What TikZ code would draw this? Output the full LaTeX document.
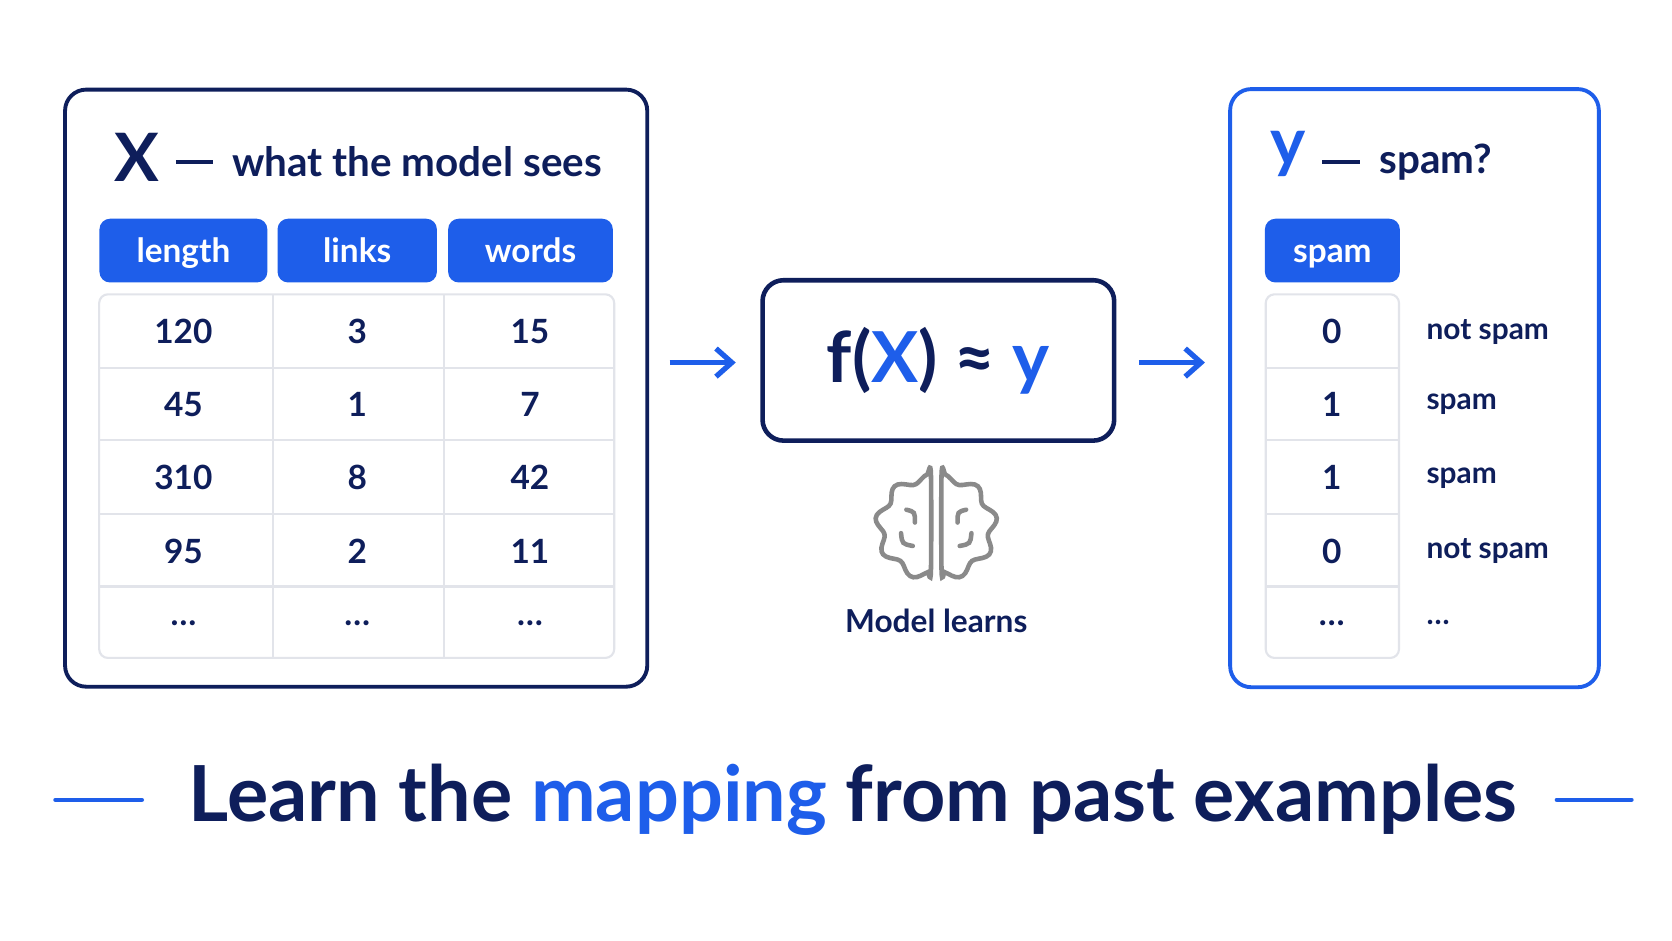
\documentclass[tikz,border=0pt]{standalone}
\usepackage{fontspec}
\setmainfont{Lato}
\usetikzlibrary{arrows.meta}
\definecolor{navy}{HTML}{0E1E5B}
\definecolor{blu}{HTML}{1E5EEA}
\definecolor{cellline}{HTML}{E2E4EA}
\definecolor{braingray}{HTML}{8A8A8A}
\tikzstyle{panel} = [draw=navy, line width=2.2pt, rounded corners=12pt, fill=white]
\tikzstyle{head} = [fill=blu, rounded corners=6pt, text=white, text height=15pt, text depth=2pt, font=\bfseries\fontsize{19}{21}\selectfont]
\tikzstyle{cell} = [draw=cellline, line width=1.2pt]
\tikzstyle{num} = [text=navy, font=\bfseries\fontsize{19}{21}\selectfont]
\tikzstyle{lab} = [text=navy, anchor=west, font=\bfseries\fontsize{17}{19}\selectfont]
\tikzstyle{arrow} = [draw=blu, line width=3pt, -{Straight Barb[length=9pt,width=16pt,line width=3pt]}]
\tikzstyle{emdash} = [draw=navy, line width=2.5pt]

\begin{document}
\begin{tikzpicture}[x=0.021327cm, y=-0.021327cm]
\useasboundingbox[fill=white] (0,0) rectangle (1568,882);

% input panel
\node (xbox) [panel, minimum width=548*0.6047pt, minimum height=562*0.6047pt] at (334,364) {};
\node (xsym) [text=navy, font=\bfseries\fontsize{38}{40}\selectfont] at (128,148) {X};
\draw [emdash] (165,152) -- (200,152);
\node (xtitle) [text=navy, anchor=west, font=\bfseries\fontsize{23}{26}\selectfont] at (212,152) {what the model sees};
\foreach \name/\a/\b in {length/93/251, links/260/410, words/420/575}
  \node (h\name) [head, minimum width=(\b-\a)*0.6047pt, minimum height=60*0.6047pt] at ({(\a+\b)/2},235) {\name};
\draw [cell, rounded corners=5pt] (93,276) rectangle (576,617);
\foreach \x in {256,416} \draw [cell] (\x,276) -- (\x,617);
\foreach \y in {345,413,482,550} \draw [cell] (93,\y) -- (576,\y);
\foreach \r/\y/\p/\q/\s in {1/311/120/3/15, 2/379/45/1/7, 3/448/310/8/42, 4/517/95/2/11, 5/584/\dots/\dots/\dots} {
  \node (a\r) [num] at (172,\y) {\p};
  \node (b\r) [num] at (335,\y) {\q};
  \node (c\r) [num] at (497,\y) {\s};
}

% model
\node (fbox) [panel, line width=2.6pt, minimum width=331*0.6047pt, minimum height=151*0.6047pt] at (880,338) {};
\node (ftext) [text=navy, font=\bfseries\fontsize{40}{44}\selectfont] at (880,338) {f(\textcolor{blu}{X}) ≈ \textcolor{blu}{y}};
\coordinate (a1s) at (628,340); \coordinate (a1e) at (690,340);
\coordinate (a2s) at (1068,340); \coordinate (a2e) at (1130,340);
\draw [arrow] (a1s) -- (a1e);
\draw [arrow] (a2s) -- (a2e);

% brain
\begin{scope}[draw=braingray, line width=2.6pt, line cap=round]
\draw plot[smooth cycle, samples=50, domain=90:270, variable=\t]
  ({873+(46+4*cos(9*(\t-90)))*cos(\t)*1.05}, {494-(46+4*cos(9*(\t-90)))*sin(\t)});
\draw plot[smooth cycle, samples=50, domain=-90:90, variable=\t]
  ({883+(46+4*cos(9*(\t-90)))*cos(\t)*1.05}, {494-(46+4*cos(9*(\t-90)))*sin(\t)});
\draw (850,478) .. controls (858,480) .. (858,490);
\draw (845,500) .. controls (846,510) .. (856,512);
\draw (906,478) .. controls (898,480) .. (898,490);
\draw (911,500) .. controls (910,510) .. (900,512);
\end{scope}
\node (brainlab) [text=navy, font=\bfseries\fontsize{18}{20}\selectfont] at (878,582) {Model learns};

% output panel
\node (ybox) [panel, draw=blu, minimum width=347*0.6047pt, minimum height=563*0.6047pt] at (1326.5,364) {};
\node (ysym) [text=blu, font=\bfseries\fontsize{38}{40}\selectfont] at (1208,144) {y};
\draw [emdash] (1240,152) -- (1275,152);
\node (ytitle) [text=navy, anchor=west, font=\bfseries\fontsize{23}{26}\selectfont] at (1288,152) {spam?};
\node (hspam) [head, minimum width=127*0.6047pt, minimum height=60*0.6047pt] at (1249.5,235) {spam};
\draw [cell, rounded corners=5pt] (1187,276) rectangle (1312,617);
\foreach \y in {345,413,482,550} \draw [cell] (1187,\y) -- (1312,\y);
\foreach \r/\y/\v/\t in {1/311/0/not spam, 2/379/1/spam, 3/448/1/spam, 4/517/0/not spam, 5/584/\dots/\dots} {
  \node (v\r) [num] at (1249,\y) {\v};
  \node (t\r) [lab] at (1332,\y) {\t};
}

% caption
\node (caption) [text=navy, font=\bfseries\fontsize{44}{48}\selectfont] at (800,750) {Learn the \textcolor{blu}{mapping} from past examples};
\coordinate (l1) at (52,750); \coordinate (l2) at (133,750);
\coordinate (r1) at (1460,750); \coordinate (r2) at (1530,750);
\draw [blu, line width=2.5pt, line cap=round] (l1) -- (l2);
\draw [blu, line width=2.5pt, line cap=round] (r1) -- (r2);
\end{tikzpicture}
\end{document}
